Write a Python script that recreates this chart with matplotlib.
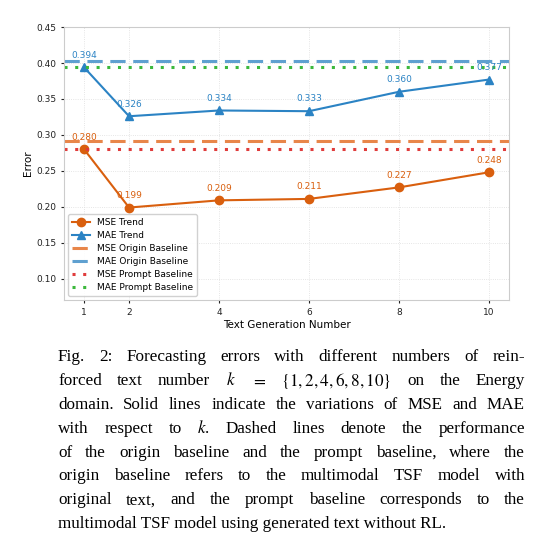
import matplotlib
matplotlib.use("Agg")
import matplotlib.pyplot as plt

x = [1, 2, 4, 6, 8, 10]
mse = [0.280, 0.199, 0.209, 0.211, 0.227, 0.248]
mae = [0.394, 0.326, 0.334, 0.333, 0.360, 0.377]
mse_origin = 0.291
mae_origin = 0.403
mse_prompt = 0.280
mae_prompt = 0.394
yticks = [0.10, 0.15, 0.20, 0.25, 0.30, 0.35, 0.40, 0.45]
caption = [
    "Fig. 2: Forecasting errors with different numbers of rein-",
    r"forced text number $k$ $=$ $\{1,2,4,6,8,10\}$ on the Energy",
    "domain. Solid lines indicate the variations of MSE and MAE",
    r"with respect to $k$. Dashed lines denote the performance",
    "of the origin baseline and the prompt baseline, where the",
    "origin baseline refers to the multimodal TSF model with",
    "original text, and the prompt baseline corresponds to the",
    "multimodal TSF model using generated text without RL.",
]

fig = plt.figure(figsize=(5.41, 5.42), dpi=100)
ax = fig.add_axes([0.118, 0.446, 0.823, 0.504])
c_mse, c_mae = "#d95f0e", "#2b83c4"
ax.plot(x, mse, "-o", color=c_mse, lw=1.5, ms=6, label="MSE Trend")
ax.plot(x, mae, "-^", color=c_mae, lw=1.5, ms=6, label="MAE Trend")
ax.axhline(mse_origin, color="#e8864a", ls=(0, (5, 2.5)), lw=2.2, label="MSE Origin Baseline")
ax.axhline(mae_origin, color="#5fa0d0", ls=(0, (5, 2.5)), lw=2.2, label="MAE Origin Baseline")
ax.axhline(mse_prompt, color="#e03c3c", ls=(0, (1, 2.5)), lw=2.2, label="MSE Prompt Baseline")
ax.axhline(mae_prompt, color="#3cb83c", ls=(0, (1, 2.5)), lw=2.2, label="MAE Prompt Baseline")
for xi, v in zip(x, mse):
    ax.annotate(f"{v:.3f}", (xi, v), xytext=(0, 7), textcoords="offset points",
                ha="center", fontsize=6.5, color=c_mse)
for xi, v in zip(x, mae):
    ax.annotate(f"{v:.3f}", (xi, v), xytext=(0, 7), textcoords="offset points",
                ha="center", fontsize=6.5, color=c_mae)
ax.set_xlim(0.55, 10.45)
ax.set_ylim(0.07, 0.45)
ax.set_xticks(x)
ax.set_yticks(yticks)
ax.tick_params(labelsize=6.5, length=2, colors="#222222")
ax.grid(True, ls=":", lw=0.6, color="#dddddd")
for s in ax.spines.values():
    s.set_color("#cccccc")
ax.set_xlabel("Text Generation Number", fontsize=7.5, labelpad=2)
ax.set_ylabel("Error", fontsize=7.5, labelpad=2)
ax.legend(loc="lower left", fontsize=6.5, frameon=True, framealpha=0.9, edgecolor="#cccccc",
          handlelength=2.0, labelspacing=0.45)

renderer = fig.canvas.get_renderer()
x0, x1 = 58, 525
W = 541.0
for i, line in enumerate(caption):
    y = 1 - (357 + i * 23.9) / 542
    words = line.split(" ")
    kw = dict(fontsize=12.3, family="Liberation Serif", va="center", ha="left",
              math_fontfamily="stix")
    if i == len(caption) - 1:
        fig.text(x0 / W, y, line, **kw)
        continue
    texts = [fig.text(0, y, w, **kw) for w in words]
    widths = [t.get_window_extent(renderer).width for t in texts]
    gap = (x1 - x0 - sum(widths)) / (len(words) - 1)
    pos = x0
    for t, wd in zip(texts, widths):
        t.set_x(pos / W)
        pos += wd + gap

fig.savefig("out.png", dpi=100)
